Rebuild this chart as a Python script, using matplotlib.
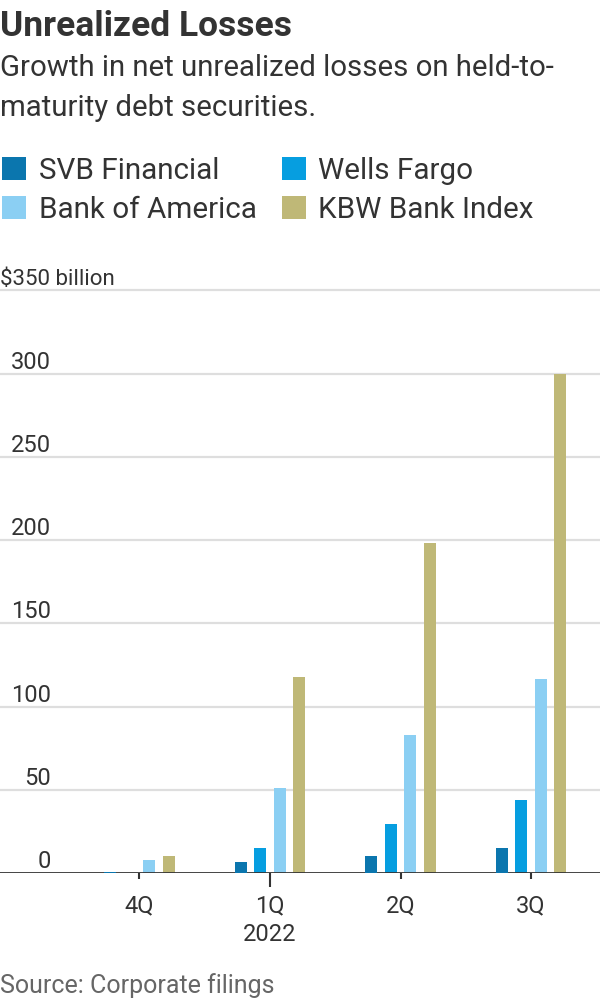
import matplotlib
matplotlib.use("Agg")
import matplotlib.pyplot as plt
import matplotlib.transforms as mtransforms
from matplotlib.patches import Patch
import numpy as np

plt.rcParams['font.family'] = ['Roboto', 'DejaVu Sans']

# ---- data ----
quarters = ["4Q", "1Q\n2022", "2Q", "3Q"]
series_names = ["SVB Financial", "Wells Fargo", "Bank of America", "KBW Bank Index"]
svb = [0.8, 6.8, 10.4, 15.2]
wells = [0.0, 15.2, 29.6, 44.0]
bofa = [8.0, 51.3, 83.0, 116.5]
kbw = [10.6, 117.7, 198.0, 300.0]
yticks = [0, 50, 100, 150, 200, 250, 300, 350]
ytick_labels = ["0", "50", "100", "150", "200", "250", "300", "$350 billion"]

colors = ["#0b76ae", "#069ee0", "#8bcff3", "#bfb877"]
TXT = "#333333"

fig = plt.figure(figsize=(6, 10), dpi=100)
ax = fig.add_axes([0, 0.1267, 1, 0.5914])

x = np.arange(len(quarters))
width = 0.092
pitch = 0.1493
for k, vals in enumerate([svb, wells, bofa, kbw]):
    ax.bar(x + (k - 1.5) * pitch, vals, width=width, color=colors[k],
           zorder=5 if k == 0 else 3, linewidth=0)

ax.set_xlim(-1.068, 3.528)
ax.set_ylim(0, 355)
for s in ax.spines.values():
    s.set_visible(False)
ax.set_yticks([])
for v in yticks[1:]:
    ax.axhline(v, color="#dedede", lw=1.6, zorder=1)
ax.axhline(0, color="#333333", lw=2.0, zorder=4)

# y labels above gridlines
trans = mtransforms.blended_transform_factory(ax.transAxes, ax.transData)
trans_off = mtransforms.offset_copy(trans, fig=fig, y=5, units='dots')
for v, lab in zip(yticks, ytick_labels):
    if lab.startswith("$"):
        ax.text(0.0, v, lab, transform=trans_off, ha="left", va="baseline",
                fontsize=16, color=TXT)
    else:
        ax.text(51 / 600, v, lab, transform=trans_off, ha="right", va="baseline",
                fontsize=17, color=TXT)

ax.set_xticks(x)
ax.set_xticklabels(quarters, fontsize=17, color=TXT, linespacing=1.35)
ax.tick_params(axis="x", length=4, width=1.5, color="#333333", pad=11)
ax.xaxis.get_major_ticks()[1].tick1line.set_markersize(10)

# title / subtitle
fig.text(0.0, 1 - 36 / 1000, "Unrealized Losses", fontsize=25.5, fontweight="bold",
         color=TXT, ha="left", va="baseline")
fig.text(0.0, 1 - 76 / 1000, "Growth in net unrealized losses on held-to-",
         fontsize=21.2, color=TXT, ha="left", va="baseline")
fig.text(0.0, 1 - 116 / 1000, "maturity debt securities.",
         fontsize=21.2, color=TXT, ha="left", va="baseline")

# legend
handles = [Patch(facecolor=colors[i], edgecolor="none") for i in range(4)]
order = [0, 2, 1, 3]
fig.legend([handles[i] for i in order], [series_names[i] for i in order],
           loc="upper left", bbox_to_anchor=(2 / 600, 1 - 157 / 1000),
           ncol=2, frameon=False, fontsize=21.3, labelcolor=TXT,
           handlelength=0.82, handleheight=0.82, handletextpad=0.42,
           columnspacing=0.85, labelspacing=0.36, borderpad=0, borderaxespad=0)

fig.text(0.0, 1 - 993 / 1000, "Source: Corporate filings", fontsize=18,
         color="#666666", ha="left", va="baseline")

fig.savefig("out.png", dpi=100)
